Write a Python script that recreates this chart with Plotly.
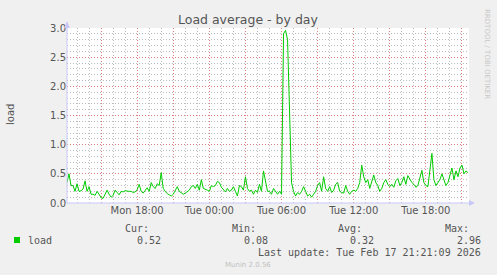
import pandas as pd
import plotly.graph_objects as go

# ---- data (10-minute samples, Mon 12:10 -> Tue 21:30) ----
start_time = "2026-02-16 12:10"
load_values = [
    # Mon 12:10 ..
    0.35, 0.50, 0.30, 0.30, 0.20, 0.33, 0.20, 0.21, 0.24, 0.38,
    0.20, 0.28, 0.15, 0.15, 0.13, 0.20, 0.15, 0.09, 0.08, 0.15,
    0.22, 0.15, 0.10, 0.13, 0.22, 0.18, 0.14, 0.20, 0.19, 0.21,
    0.20, 0.20, 0.20, 0.18, 0.19, 0.23, 0.32, 0.20, 0.17, 0.22,
    0.26, 0.20, 0.35, 0.28, 0.25, 0.33, 0.30, 0.52, 0.25, 0.20,
    0.16,
    # Mon 20:30 ..
    0.14, 0.12, 0.15, 0.22, 0.28, 0.20, 0.18, 0.15, 0.17, 0.20,
    0.22, 0.28, 0.30, 0.25, 0.32, 0.22, 0.40, 0.25, 0.24, 0.22,
    0.20, 0.30, 0.28, 0.30, 0.37, 0.35, 0.27, 0.22, 0.19, 0.25,
    0.20, 0.22, 0.28, 0.20, 0.12, 0.30, 0.28, 0.22, 0.45, 0.25,
    0.20, 0.22, 0.15, 0.22, 0.18, 0.32, 0.20, 0.55, 0.35, 0.20,
    # Tue 04:50 ..
    0.20, 0.15, 0.25, 0.20, 0.15, 0.20, 0.15, 2.90, 2.96, 2.80,
    1.40, 0.35, 0.20, 0.12, 0.18, 0.15, 0.20, 0.28, 0.20, 0.12,
    0.15, 0.10, 0.15, 0.20, 0.30, 0.35, 0.20, 0.45, 0.25, 0.20,
    0.28, 0.18, 0.22, 0.32, 0.35, 0.20, 0.18, 0.17, 0.30, 0.20,
    0.15, 0.20, 0.22, 0.20, 0.25, 0.35, 0.65, 0.45,
    # Tue 13:10 ..
    0.35, 0.40, 0.25, 0.35, 0.48, 0.35, 0.30, 0.20, 0.25, 0.35,
    0.40, 0.32, 0.28, 0.32, 0.27, 0.38, 0.42, 0.30, 0.35, 0.45,
    0.32, 0.47, 0.40, 0.35, 0.32, 0.27, 0.30, 0.42, 0.56, 0.35,
    0.30, 0.28, 0.62, 0.85, 0.40, 0.30, 0.35, 0.40, 0.50, 0.38,
    0.30, 0.35, 0.50, 0.60, 0.40, 0.55, 0.45, 0.60, 0.65, 0.50,
    0.55, 0.52,
]
times = pd.date_range(start_time, periods=len(load_values), freq="10min")

x_range = ["2026-02-16 12:10", "2026-02-17 21:35"]
tick_times = pd.date_range("2026-02-16 15:00", "2026-02-17 21:00", freq="3h")
tick_labels = [t.strftime("%a %H:%M") if t.hour % 6 == 0 else "" for t in tick_times]
y_ticks = [0.0, 0.5, 1.0, 1.5, 2.0, 2.5, 3.0]

legend_name = "load"
stat_names = ["Cur:", "Min:", "Avg:", "Max:"]
stat_values = ["0.52", "0.08", "0.32", "2.96"]
last_update = "Last update: Tue Feb 17 21:21:09 2026"
title_text = "Load average - by day"
y_title = "load"
side_text = "RRDTOOL / TOBI OETIKER"
footer = "Munin 2.0.56"

# ---- layout geometry (pixels) ----
W, H = 497, 275
L, R, T, B = 67, 469, 28, 203


def px(x):
    return (x - L) / (R - L)


def py(y):
    return (B - y) / (B - T)


GREEN = "#00cc00"
AXIS = "#c8c8f8"
MAJOR = "#e07c7c"
MINOR = "#bcbcbc"
DASH = "1px,2px"
TXT = "#555555"
MONO = "DejaVu Sans Mono"
SANS = "DejaVu Sans"

fig = go.Figure()
fig.add_trace(go.Scatter(x=times, y=load_values, mode="lines",
                         line=dict(color=GREEN, width=1), hoverinfo="skip",
                         showlegend=False))

fig.update_layout(
    width=W, height=H,
    margin=dict(l=L, r=W - R, t=T, b=H - B, pad=0),
    paper_bgcolor="#f0f0f0", plot_bgcolor="white",
    showlegend=False,
)
fig.update_xaxes(
    range=x_range, tickmode="array", tickvals=tick_times, ticktext=tick_labels,
    showgrid=True, gridcolor=MAJOR, griddash=DASH, gridwidth=1,
    minor=dict(dtick=3600000, tick0="2026-02-16 00:00", showgrid=True,
               gridcolor=MINOR, griddash=DASH, gridwidth=1, ticks=""),
    ticks="", showline=False, zeroline=False,
    tickfont=dict(family=SANS, size=10, color=TXT),
)
fig.update_yaxes(
    range=[0, 3.0], tickmode="array", tickvals=y_ticks,
    ticktext=[f"{v:.1f}" for v in y_ticks],
    showgrid=True, gridcolor=MAJOR, griddash=DASH, gridwidth=1,
    minor=dict(dtick=0.1, tick0=0, showgrid=True, gridcolor=MINOR,
               griddash=DASH, gridwidth=1, ticks=""),
    ticks="", showline=False, zeroline=False,
    tickfont=dict(family=SANS, size=10, color=TXT),
)

# axis lines with arrowheads (decoration)
shapes = [
    dict(type="line", xref="paper", yref="paper", x0=0, x1=0, y0=0, y1=py(23),
         line=dict(color=AXIS, width=1)),
    dict(type="line", xref="paper", yref="paper", x0=0, x1=px(471), y0=0, y1=0,
         line=dict(color=AXIS, width=1)),
    dict(type="path", xref="paper", yref="paper",
         path=f"M {px(64)} {py(28)} L {px(70)} {py(28)} L {px(67)} {py(21)} Z",
         fillcolor=AXIS, line=dict(width=0)),
    dict(type="path", xref="paper", yref="paper",
         path=f"M {px(469)} {py(200)} L {px(469)} {py(206)} L {px(475)} {py(203)} Z",
         fillcolor=AXIS, line=dict(width=0)),
    dict(type="rect", xref="paper", yref="paper",
         x0=px(14), x1=px(20), y0=py(243), y1=py(237),
         fillcolor=GREEN, line=dict(width=0)),
]
fig.update_layout(shapes=shapes)

ann = []


def add_text(text, x, y, xanchor="left", size=10, family=MONO, color=TXT, angle=0):
    ann.append(dict(text=text, x=px(x), y=py(y), xref="paper", yref="paper",
                    xanchor=xanchor, yanchor="middle", showarrow=False,
                    textangle=angle, font=dict(family=family, size=size, color=color)))


add_text(title_text, 248, 19, xanchor="center", size=12.5, family=SANS)
add_text(y_title, 10, 115, xanchor="center", size=10, family=SANS, angle=-90)
add_text(side_text, 487, 54, xanchor="center", size=7, family=SANS, color="#c8c8c8", angle=90)
add_text(legend_name, 26, 240)
stat_name_right = [151, 258, 364, 471]
stat_val_right = [163, 270, 376, 483]
for name, val, xn, xv in zip(stat_names, stat_values, stat_name_right, stat_val_right):
    add_text(name, xn, 228, xanchor="right")
    add_text(val, xv, 240, xanchor="right")
add_text(last_update, 483, 252, xanchor="right")
add_text(footer, 248, 265, xanchor="center", size=7, family=SANS, color="#c0c0c0")
fig.update_layout(annotations=ann)

fig.write_html("out.html")
